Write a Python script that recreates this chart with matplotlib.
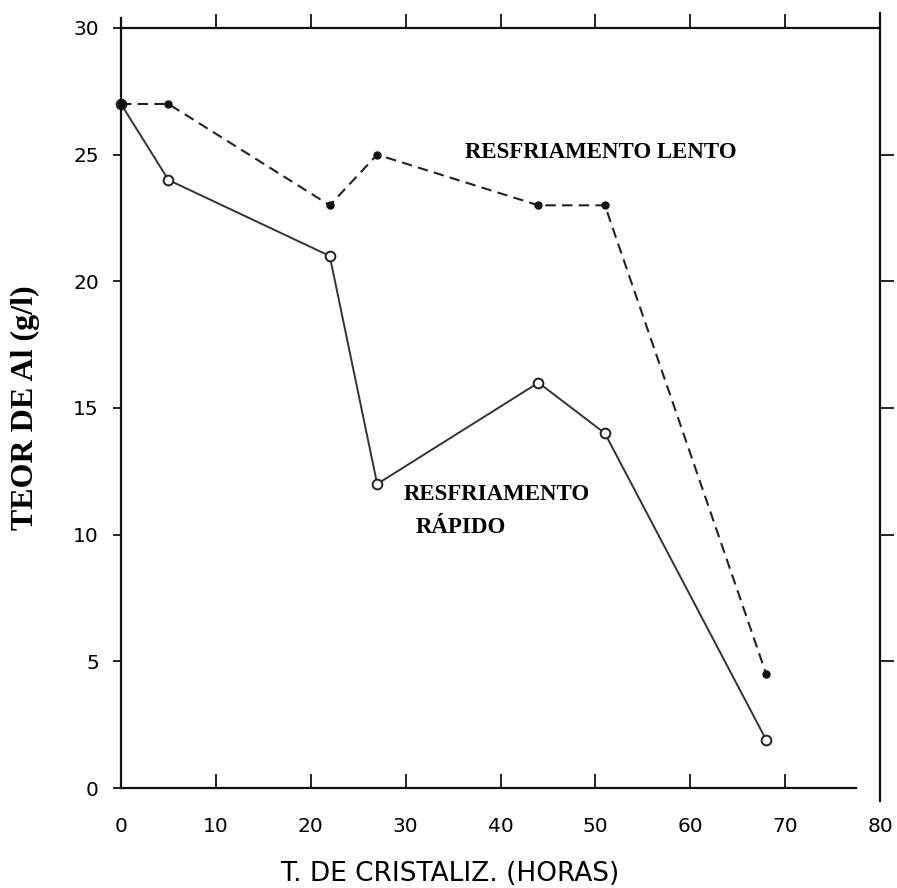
import numpy as np
import matplotlib
matplotlib.use("Agg")
import matplotlib.pyplot as plt

# Dados
horas = [0, 5, 22, 27, 44, 51, 68]
lento = [27, 27, 23, 25, 23, 23, 4.5]
rapido = [27, 24, 21, 12, 16, 14, 1.9]

xticks = [0, 10, 20, 30, 40, 50, 60, 70, 80]
yticks = [0, 5, 10, 15, 20, 25, 30]

fig = plt.figure(figsize=(8.97, 8.88), dpi=100)
ax = fig.add_axes([0.1349, 0.1126, 0.8462, 0.8559])

# Curvas (a lenta por cima)
ax.plot(horas, rapido, color="#333333", lw=1.4, zorder=2,
        marker="o", ms=7, mfc="white", mec="#222222", mew=1.4, clip_on=False)
ax.plot(horas, lento, color="#222222", lw=1.5, dashes=(5, 3), zorder=3,
        marker="o", ms=5, mfc="#111111", mec="#111111", clip_on=False)

ax.set_xlim(0, 80)
ax.set_ylim(0, 30)

# Eixos no estilo do original
for s in ["left", "bottom", "top", "right"]:
    ax.spines[s].set_linewidth(1.6)
    ax.spines[s].set_color("#111111")
ax.spines["bottom"].set_bounds(0, 77.5)
ax.spines["right"].set_bounds(-0.5, 30.6)
ax.spines["left"].set_bounds(0, 30.4)

ax.set_xticks(xticks)
ax.set_yticks(yticks)
ax.tick_params(axis="x", direction="in", length=10, width=1.2, pad=21,
               labelsize=14.5, top=False)
ax.tick_params(axis="y", direction="out", length=6, width=1.2, pad=10,
               labelsize=14.5, right=False)
for lab in ax.get_xticklabels() + ax.get_yticklabels():
    lab.set_fontfamily("DejaVu Sans")

top = ax.secondary_xaxis("top")
top.set_xticks(xticks[1:-1])
top.tick_params(direction="out", length=10, width=1.2, labeltop=False)
top.spines["top"].set_visible(False)

right = ax.secondary_yaxis("right")
right.set_yticks(yticks[1:-1])
right.tick_params(direction="out", length=10, width=1.2, labelright=False)
right.spines["right"].set_visible(False)

ax.set_xlabel("T. DE CRISTALIZ. (HORAS)", fontsize=19, family="DejaVu Sans")
ax.xaxis.set_label_coords(0.433, -0.096)
ax.set_ylabel("TEOR DE Al (g/l)", fontsize=23, family="Liberation Serif",
              fontweight="bold")
ax.yaxis.set_label_coords(-0.107, 0.5)

ax.text(36.3, 25.1, "RESFRIAMENTO LENTO", fontsize=16.5,
        family="Liberation Serif", fontweight="bold", va="center")
ax.text(29.8, 11.6, "RESFRIAMENTO", fontsize=16.5,
        family="Liberation Serif", fontweight="bold", va="center")
ax.text(31.1, 10.3, "RÁPIDO", fontsize=16.5,
        family="Liberation Serif", fontweight="bold", va="center")

fig.savefig("out.png", dpi=100)
